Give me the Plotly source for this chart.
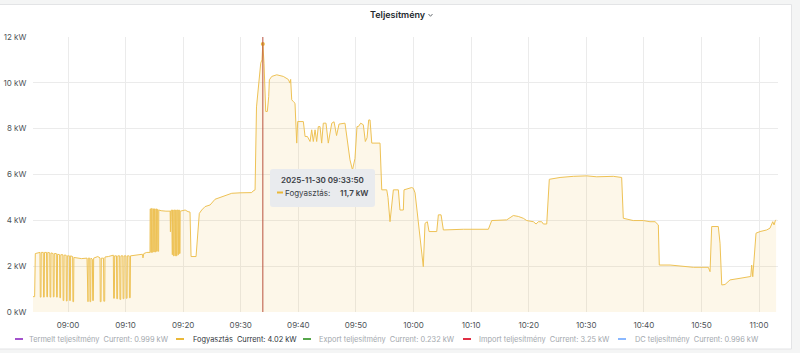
import plotly.graph_objects as go

# ---------------- data ----------------
DATE = "2025-11-30"

fogy_time = [
    "08:53:55", "08:54:12", "08:54:19", "08:55:08",
    "08:55:11", "08:55:18", "08:55:21",
    "08:55:42", "08:55:45", "08:55:52", "08:55:55",
    "08:56:16", "08:56:19", "08:56:26", "08:56:29",
    "08:56:50", "08:56:53", "08:57:00", "08:57:03",
    "08:57:24", "08:57:27", "08:57:34", "08:57:37",
    "08:57:58", "08:58:01", "08:58:08", "08:58:11",
    "08:58:32", "08:58:35", "08:58:42", "08:58:45",
    "08:59:06", "08:59:09", "08:59:16", "08:59:19",
    "08:59:40", "08:59:43", "08:59:50", "08:59:53",
    "09:00:14", "09:00:17", "09:00:24", "09:00:27",
    "09:00:48", "09:00:51", "09:00:58", "09:01:01",
    "09:01:30", "09:02:20", "09:03:18",
    "09:03:21", "09:03:28", "09:03:31",
    "09:03:46", "09:03:49", "09:03:56", "09:03:59",
    "09:04:14", "09:04:17", "09:04:24", "09:04:27",
    "09:04:55", "09:05:10", "09:05:33",
    "09:05:36", "09:05:44", "09:05:47",
    "09:06:10", "09:06:13", "09:06:22", "09:06:25",
    "09:07:00", "09:07:40", "09:07:52",
    "09:07:55", "09:08:03", "09:08:06",
    "09:08:25", "09:08:28", "09:08:36", "09:08:39",
    "09:08:58", "09:09:01", "09:09:09", "09:09:12",
    "09:09:31", "09:09:34", "09:09:42", "09:09:45",
    "09:10:04", "09:10:07", "09:10:15", "09:10:18",
    "09:10:37", "09:10:40", "09:10:48", "09:10:51",
    "09:11:17", "09:12:30", "09:12:55", "09:13:01", "09:13:10", "09:13:40", "09:14:07",
    "09:14:14", "09:14:16", "09:14:21", "09:14:23",
    "09:14:29", "09:14:31", "09:14:36", "09:14:38",
    "09:14:44", "09:14:46", "09:14:51", "09:14:53",
    "09:14:59", "09:15:01", "09:15:06", "09:15:08",
    "09:15:14", "09:15:16", "09:15:21", "09:15:23",
    "09:15:29", "09:15:31", "09:15:36", "09:15:38",
    "09:15:44", "09:15:46",
    "09:16:10", "09:17:00", "09:17:44",
    "09:17:47", "09:17:50",
    "09:18:00", "09:18:02", "09:18:07", "09:18:09",
    "09:18:16", "09:18:18", "09:18:23", "09:18:25",
    "09:18:32", "09:18:34", "09:18:39", "09:18:41",
    "09:18:48", "09:18:50", "09:18:55", "09:18:57",
    "09:19:04", "09:19:06", "09:19:11", "09:19:13",
    "09:19:20", "09:19:22", "09:19:27", "09:19:29",
    "09:19:50", "09:20:20", "09:20:50", "09:21:11", "09:21:22", "09:22:14",
    "09:22:48", "09:23:13", "09:23:48", "09:24:40", "09:25:32", "09:26:24",
    "09:27:34", "09:28:26", "09:29:52", "09:31:54", "09:32:08", "09:32:29",
    "09:32:44", "09:32:53", "09:33:13", "09:33:28", "09:33:41", "09:33:50",
    "09:34:02", "09:34:13", "09:34:20", "09:34:37", "09:34:51", "09:34:58",
    "09:35:23", "09:36:15", "09:37:23", "09:38:15", "09:38:33", "09:38:40",
    "09:38:51", "09:39:08", "09:39:25", "09:39:43", "09:39:53", "09:40:52",
    "09:41:10", "09:41:34", "09:42:02", "09:42:19", "09:42:36", "09:42:54",
    "09:43:11", "09:43:28", "09:43:46", "09:44:03", "09:44:20", "09:44:48",
    "09:45:12", "09:45:48", "09:46:12", "09:46:38", "09:47:04", "09:48:06",
    "09:48:27", "09:48:58", "09:49:24", "09:49:50", "09:50:11", "09:50:25",
    "09:50:50", "09:51:17", "09:51:38", "09:51:56", "09:52:13", "09:52:27",
    "09:52:45", "09:54:11", "09:54:29", "09:55:21", "09:55:34", "09:55:55",
    "09:56:30", "09:57:22", "09:57:39", "09:58:14", "09:58:21", "09:59:41",
    "09:59:58", "10:00:16", "10:01:42", "10:02:00", "10:02:24", "10:02:42",
    "10:04:02", "10:04:19", "10:04:47", "10:05:11", "10:08:39", "10:13:00",
    "10:13:35", "10:16:11", "10:17:20", "10:18:12", "10:19:04", "10:19:40",
    "10:20:49", "10:21:17", "10:21:41", "10:22:16", "10:22:33", "10:23:08",
    "10:23:35", "10:25:27", "10:27:45", "10:30:05", "10:31:49", "10:34:42",
    "10:36:09", "10:36:26", "10:38:10", "10:39:55", "10:41:04", "10:41:57",
    "10:42:31", "10:42:41", "10:44:33", "10:46:17", "10:48:36", "10:51:12",
    "10:51:30", "10:51:47", "10:52:56", "10:53:14", "10:53:32", "10:54:06",
    "10:54:58", "10:56:42", "10:57:52", "10:58:34", "10:58:44", "10:58:55",
    "10:59:29", "11:00:11", "11:01:20", "11:01:55", "11:02:23", "11:02:37",
    "11:02:50", "11:02:58",
]

fogy_kw = [
    0.67, 0.67, 2.55, 2.60,
    0.65, 0.65, 2.60,
    2.60, 0.65, 0.65, 2.60,
    2.60, 0.66, 0.66, 2.60,
    2.58, 0.65, 0.65, 2.58,
    2.55, 0.66, 0.66, 2.55,
    2.55, 0.65, 0.65, 2.52,
    2.50, 0.62, 0.62, 2.50,
    2.50, 0.50, 0.50, 2.48,
    2.48, 0.48, 0.48, 2.45,
    2.45, 0.50, 0.50, 2.45,
    2.42, 0.45, 0.45, 2.38,
    2.36, 2.33, 2.35,
    0.45, 0.45, 2.35,
    2.35, 0.45, 0.45, 2.35,
    2.30, 0.50, 0.50, 2.35,
    2.38, 2.42, 2.36,
    0.45, 0.45, 2.35,
    2.35, 0.47, 0.47, 2.40,
    2.42, 2.45, 2.48,
    0.60, 0.60, 2.45,
    2.45, 0.58, 0.58, 2.45,
    2.45, 0.55, 0.55, 2.45,
    2.45, 0.58, 0.58, 2.45,
    2.45, 0.60, 0.60, 2.45,
    2.45, 0.62, 0.62, 2.45,
    2.47, 2.50, 2.52, 2.36, 2.55, 2.60, 2.62,
    2.60, 4.50, 4.50, 2.60,
    2.60, 4.52, 4.52, 2.60,
    2.62, 4.50, 4.50, 2.62,
    2.62, 4.50, 4.50, 2.62,
    2.62, 4.50, 4.50, 2.65,
    2.65, 4.48, 4.48, 2.65,
    2.65, 4.45,
    4.42, 4.40, 4.40,
    3.50, 4.42,
    4.45, 2.50, 2.50, 4.45,
    4.45, 2.45, 2.45, 4.45,
    4.45, 2.45, 2.45, 4.45,
    4.45, 2.45, 2.45, 4.45,
    4.45, 2.50, 2.50, 4.45,
    4.45, 2.55, 2.55, 4.40,
    4.42, 4.45, 4.38, 4.36, 2.42, 2.42,
    4.30, 4.45, 4.60, 4.67, 4.92, 5.00,
    5.11, 5.18, 5.20, 5.21, 5.28, 5.33,
    8.95, 9.40, 10.42, 10.86, 11.00, 11.70,
    10.86, 9.40, 8.75, 8.75, 9.40, 10.13,
    10.28, 10.35, 10.28, 10.15, 9.99, 10.15,
    9.26, 9.18, 9.11, 7.37, 8.31, 8.31,
    7.66, 7.66, 7.44, 7.95, 7.44, 7.95,
    7.44, 8.09, 8.09, 7.37, 8.24, 8.24,
    7.37, 8.24, 8.30, 7.70, 8.20, 8.24,
    7.50, 6.64, 6.20, 6.70, 8.09, 8.09,
    8.24, 8.17, 7.44, 7.60, 8.38, 8.38,
    7.37, 7.37, 5.33, 5.33, 5.00, 3.94,
    5.33, 5.33, 4.45, 4.45, 5.33, 5.43,
    5.40, 5.20, 1.98, 3.87, 3.94, 3.51,
    3.51, 4.24, 4.24, 3.58, 3.61, 3.61,
    3.99, 4.02, 4.21, 4.17, 4.09, 3.99,
    3.94, 3.84, 3.94, 3.94, 3.84, 3.84,
    5.79, 5.87, 5.92, 5.94, 5.90, 5.92,
    5.87, 4.09, 3.99, 3.99, 3.94, 3.94,
    3.80, 2.05, 2.05, 2.00, 1.95, 1.95,
    1.76, 3.73, 3.73, 3.00, 1.18, 1.20,
    1.40, 1.47, 1.54, 1.55, 2.05, 1.54,
    3.44, 3.51, 3.58, 3.66, 3.94, 3.80,
    3.99, 4.02,
]

hover_time = "09:33:50"
hover_kw = 11.7

y_ticks = [0, 2, 4, 6, 8, 10, 12]

legend_names = ["Termelt teljesítmény", "Fogyasztás", "Export teljesítmény",
                "Import teljesítmény", "DC teljesítmény"]
legend_current = ["0.999 kW", "4.02 kW", "0.232 kW", "3.25 kW", "0.996 kW"]
legend_visible = [False, True, False, False, False]

assert len(fogy_time) == len(fogy_kw)

# ---------------- styling / layout ----------------
FONT = "Inter"
W, H = 800, 353
L, R, T, B = 33, 778, 37, 312  # plot area in pixels
legend_colors = ["#A352CC", "#EAB839", "#56A64B", "#E02F44", "#8AB8FF"]
legend_sym_x = [15, 176, 303, 463, 618]
legend_text_x = [27, 191, 317, 477, 633]


def px(x):
    return (x - L) / (R - L)


def py(y):
    return (B - y) / (B - T)


xs = [f"{DATE} {t}" for t in fogy_time]

fig = go.Figure()
fig.add_trace(go.Scatter(
    x=xs, y=fogy_kw, mode="lines",
    line=dict(color="#EEC255", width=1),
    fill="tozeroy", fillcolor="rgba(234,184,57,0.11)",
    showlegend=False, hoverinfo="skip",
))
fig.add_trace(go.Scatter(
    x=[f"{DATE} {hover_time}"], y=[hover_kw], mode="markers",
    marker=dict(size=4, color="#EAB839"),
    showlegend=False, hoverinfo="skip",
))

shapes = []
annotations = []

# panel background / frame
shapes.append(dict(type="rect", xref="paper", yref="paper", layer="below",
                   x0=px(-1), x1=px(791.5), y0=py(349), y1=py(4.5),
                   fillcolor="white", line=dict(color="#e3e4e6", width=1)))

# cursor line
shapes.append(dict(type="line", xref="x", yref="paper",
                   x0=f"{DATE} {hover_time}", x1=f"{DATE} {hover_time}", y0=0, y1=1,
                   line=dict(color="#b9533f", width=1)))

# tooltip box (rounded)
bx0, bx1, by0, by1, r = 270, 375, 169, 207, 3
rx, ry = r / (R - L), r / (B - T)
X0, X1, Y0, Y1 = px(bx0), px(bx1), py(by1), py(by0)
path = (f"M {X0+rx},{Y1} L {X1-rx},{Y1} Q {X1},{Y1} {X1},{Y1-ry} "
        f"L {X1},{Y0+ry} Q {X1},{Y0} {X1-rx},{Y0} L {X0+rx},{Y0} "
        f"Q {X0},{Y0} {X0},{Y0+ry} L {X0},{Y1-ry} Q {X0},{Y1} {X0+rx},{Y1} Z")
shapes.append(dict(type="path", xref="paper", yref="paper", path=path,
                   fillcolor="#e9ebee", line=dict(width=0)))
shapes.append(dict(type="line", xref="paper", yref="paper",
                   x0=px(277), x1=px(283), y0=py(192.5), y1=py(192.5),
                   line=dict(color="#EAB839", width=2)))
annotations.append(dict(xref="paper", yref="paper", x=px(322), y=py(179.5),
                        text=f"{DATE} {hover_time}", showarrow=False,
                        xanchor="center", yanchor="middle",
                        font=dict(family=FONT, size=8, color="#3b4046", weight=600)))
annotations.append(dict(xref="paper", yref="paper", x=px(283), y=py(192.5),
                        text=f"{legend_names[1]}:", showarrow=False,
                        xanchor="left", yanchor="middle",
                        font=dict(family=FONT, size=8, color="#3b4046")))
annotations.append(dict(xref="paper", yref="paper", x=px(370), y=py(192.5),
                        text=f"{hover_kw:.1f} kW".replace(".", ","), showarrow=False,
                        xanchor="right", yanchor="middle",
                        font=dict(family=FONT, size=8, color="#3b4046", weight=600)))

# title
annotations.append(dict(xref="paper", yref="paper", x=px(398), y=py(15),
                        text="Teljesítmény", showarrow=False,
                        xanchor="center", yanchor="middle",
                        font=dict(family=FONT, size=9, color="#24292e", weight=600)))
shapes.append(dict(type="path", xref="paper", yref="paper",
                   path=f"M {px(428.5)},{py(14)} L {px(430.5)},{py(16.3)} L {px(432.5)},{py(14)}",
                   line=dict(color="#6e7378", width=1)))

# legend
for i, name in enumerate(legend_names):
    sx = legend_sym_x[i]
    shapes.append(dict(type="rect", xref="paper", yref="paper",
                       x0=px(sx), x1=px(sx + 8), y0=py(340), y1=py(338),
                       fillcolor=legend_colors[i], line=dict(width=0)))
    col = "#30353b" if legend_visible[i] else "#a3a8ae"
    annotations.append(dict(xref="paper", yref="paper", x=px(legend_text_x[i]), y=py(339),
                            text=f"{name}&nbsp;&nbsp;Current: {legend_current[i]}",
                            showarrow=False, xanchor="left", yanchor="middle",
                            font=dict(family=FONT, size=7.4, color=col)))

fig.update_layout(
    width=W, height=H,
    margin=dict(l=L, r=W - R, t=T, b=H - B, pad=0, autoexpand=False),
    paper_bgcolor="#f4f5f5", plot_bgcolor="white",
    font=dict(family=FONT, size=8, color="#4e5358"),
    showlegend=False,
    shapes=shapes, annotations=annotations,
    xaxis=dict(
        type="date", automargin=False,
        range=[f"{DATE} 08:53:55", f"{DATE} 11:03:18"],
        tick0=f"{DATE} 09:00:00", dtick=600000, tickformat="%H:%M",
        showgrid=True, gridcolor="#ebebeb", gridwidth=1,
        zeroline=False, showline=False,
        ticks="outside", ticklen=5, tickcolor="rgba(0,0,0,0)",
        tickfont=dict(family=FONT, size=8, color="#4e5358"),
    ),
    yaxis=dict(
        range=[0, 12], automargin=False,
        tickvals=y_ticks, ticktext=[f"{v} kW" for v in y_ticks],
        showgrid=True, gridcolor="#ebebeb", gridwidth=1,
        zeroline=False, showline=False,
        ticks="outside", ticklen=4, tickcolor="rgba(0,0,0,0)",
        tickfont=dict(family=FONT, size=8, color="#4e5358"),
    ),
)

fig.write_html("out.html")
